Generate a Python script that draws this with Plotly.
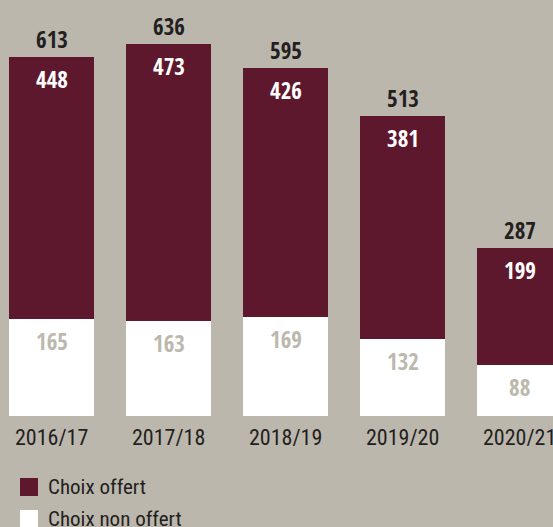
import plotly.graph_objects as go

# School years and counts
years = ["2016/17", "2017/18", "2018/19", "2019/20", "2020/21"]
choix_offert = [448, 473, 426, 381, 199]
choix_non_offert = [165, 163, 169, 132, 88]
totals = [613, 636, 595, 513, 287]

BG = "#bcb7ad"
MAROON = "#5e182d"
WHITE = "#ffffff"
DARK = "#231f20"
PALE = "#bdb8ae"
FONT_BOLD = "Open Sans Condensed, PT Sans Narrow, sans-serif"
FONT = "Roboto Condensed, PT Sans Narrow, sans-serif"

W, H = 553, 527
PLOT_H = 416  # height of plotting area in px (top margin 0)

x = list(range(len(years)))

fig = go.Figure()
fig.add_bar(x=x, y=choix_non_offert, name="Choix non offert",
            marker=dict(color=WHITE, line=dict(width=0)), width=0.7265)
fig.add_bar(x=x, y=choix_offert, name="Choix offert",
            marker=dict(color=MAROON, line=dict(width=0)), width=0.7265)

ann = []
for i in x:
    # total above the bar
    ann.append(dict(x=i, y=totals[i], xref="x", yref="y", text=f"<b>{totals[i]}</b>",
                    showarrow=False, yanchor="middle", yshift=18,
                    font=dict(family=FONT_BOLD, size=23, color=DARK)))
    # value inside the maroon segment
    ann.append(dict(x=i, y=totals[i], xref="x", yref="y", text=f"<b>{choix_offert[i]}</b>",
                    showarrow=False, yanchor="middle", yshift=-22,
                    font=dict(family=FONT_BOLD, size=23, color=WHITE)))
    # value inside the white segment
    ann.append(dict(x=i, y=choix_non_offert[i], xref="x", yref="y",
                    text=f"<b>{choix_non_offert[i]}</b>",
                    showarrow=False, yanchor="middle", yshift=-22,
                    font=dict(family=FONT_BOLD, size=23, color=PALE)))
    # category label under the bar
    ann.append(dict(x=i, y=0, xref="x", yref="y", text=years[i],
                    showarrow=False, yanchor="middle", yshift=-21,
                    font=dict(family=FONT, size=22, color=DARK)))


def px_x(p):
    return p / W


def px_y(p):
    return (PLOT_H - p) / PLOT_H


# manual legend
legend_items = [("Choix offert", MAROON, 478), ("Choix non offert", WHITE, 510)]
shapes = []
for label, color, top in legend_items:
    shapes.append(dict(type="rect", xref="paper", yref="paper",
                       x0=px_x(20), x1=px_x(38), y0=px_y(top + 18), y1=px_y(top),
                       fillcolor=color, line=dict(width=0)))
    ann.append(dict(x=px_x(46), y=px_y(top + 9), xref="paper", yref="paper",
                    text=label, showarrow=False, xanchor="left", yanchor="middle",
                    font=dict(family=FONT, size=21, color=DARK)))

fig.update_layout(
    width=W, height=H,
    margin=dict(l=0, r=0, t=0, b=H - PLOT_H),
    paper_bgcolor=BG, plot_bgcolor=BG,
    barmode="stack", showlegend=False,
    xaxis=dict(range=[-51.5 / 117, (W - 51.5) / 117], showgrid=False, zeroline=False,
               showticklabels=False, fixedrange=True),
    yaxis=dict(range=[0, PLOT_H / 0.585], showgrid=False, zeroline=False,
               showticklabels=False, fixedrange=True),
    annotations=ann, shapes=shapes,
)

fig.write_html("out.html")
